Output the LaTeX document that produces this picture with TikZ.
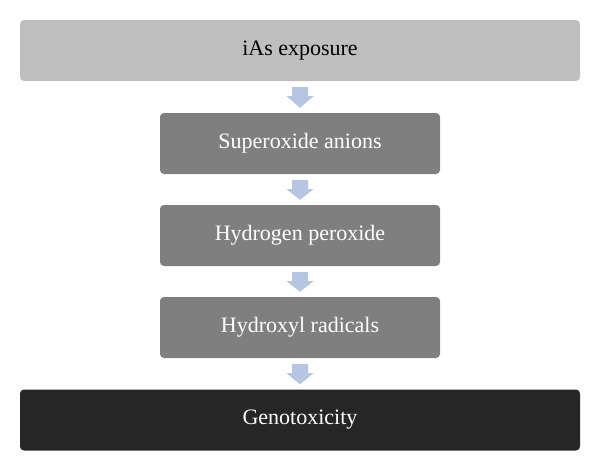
\documentclass[tikz,border=0pt]{standalone}
\usepackage{fontspec}
\setmainfont{Liberation Serif}
\usetikzlibrary{calc}
\definecolor{lightbox}{HTML}{BFBFBF}
\definecolor{midbox}{HTML}{7F7F7F}
\definecolor{darkbox}{HTML}{262626}
\definecolor{arrowc}{HTML}{B4C6E2}
\tikzset{
  box/.style={rectangle, rounded corners=4pt, inner sep=0pt, font=\fontsize{22}{26}\selectfont},
  widebox/.style={box, minimum width=560pt, minimum height=61pt},
  narrowbox/.style={box, minimum width=280pt, minimum height=61pt, fill=midbox, text=white},
  flowarrow/.style={fill=arrowc}
}
\newcommand{\flowarr}[2]{%
  \fill[flowarrow] ($(#1.south)+(-8pt,-6pt)$) -- ++(16pt,0) -- ++(0,-9pt) -- ++(5.5pt,0)
    -- ($(#2.north)+(0,5pt)$) -- ($(#1.south)+(-13.5pt,-15pt)$) -- ++(5.5pt,0) -- cycle;}
\begin{document}
\begin{tikzpicture}[x=1pt,y=1pt]
\useasboundingbox (0,0) rectangle (600,-471);
\node[widebox, fill=lightbox, text=black] (a) at (300,-50.5) {iAs exposure};
\node[narrowbox] (b) at (300,-143.5) {Superoxide anions};
\node[narrowbox] (c) at (300,-235.5) {Hydrogen peroxide};
\node[narrowbox] (d) at (300,-327.5) {Hydroxyl radicals};
\node[widebox, fill=darkbox, text=white] (e) at (300,-420) {Genotoxicity};
\flowarr{a}{b}
\flowarr{b}{c}
\flowarr{c}{d}
\flowarr{d}{e}
\end{tikzpicture}
\end{document}
